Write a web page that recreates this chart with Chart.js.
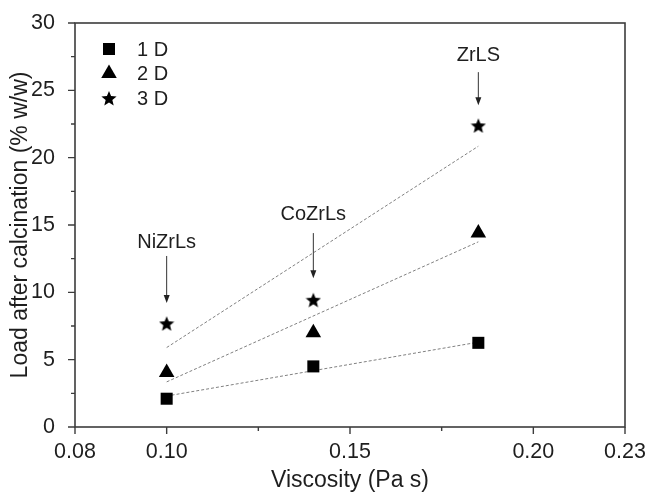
<!DOCTYPE html>
<html><head><meta charset="utf-8">
<script src="https://cdn.jsdelivr.net/npm/chart.js@4.4.1/dist/chart.umd.min.js"></script>
<style>html,body{margin:0;padding:0;background:#fff;} #wrap{width:647px;height:494px;position:relative;}</style>
</head><body><div id="wrap"><canvas id="c"></canvas></div>
<script>
// ---- data ----
const viscosity = [0.10, 0.14, 0.185];
const load1D = [2.1, 4.5, 6.25];
const load2D = [4.05, 7.0, 14.4];
const load3D = [7.7, 9.45, 22.4];
const seriesNames = ['1 D', '2 D', '3 D'];
const fitX = [0.10, 0.185];
const fit1D = [2.3, 6.3];
const fit2D = [3.35, 13.75];
const fit3D = [5.9, 20.85];
const xTickValues = [0.075, 0.10, 0.125, 0.15, 0.175, 0.20, 0.225];
const xTickLabels = ['0.08', '0.10', '', '0.15', '', '0.20', '0.23'];
const yTickValues = [0, 2.5, 5, 7.5, 10, 12.5, 15, 17.5, 20, 22.5, 25, 27.5, 30];
const yTickLabels = ['0', '', '5', '', '10', '', '15', '', '20', '', '25', '', '30'];
const sampleNames = ['NiZrLs', 'CoZrLs', 'ZrLS'];
const sampleLabelY = [13.7, 15.75, 27.6];
const arrowFrom = [12.7, 14.4, 26.35];
const arrowTo = [9.2, 11.05, 23.9];

const FONT = 'Liberation Sans, Arial, Helvetica, sans-serif';
const TXT = '#1e1e1e';

function makeStar(size) {
  const c = document.createElement('canvas');
  c.width = c.height = size;
  const g = c.getContext('2d');
  const R = size / 2, r = R * 0.44, cy = R + size * 0.06;
  g.beginPath();
  for (let i = 0; i < 10; i++) {
    const a = -Math.PI / 2 + i * Math.PI / 5;
    const rad = i % 2 ? r : R;
    g.lineTo(R + rad * Math.cos(a), cy + rad * Math.sin(a));
  }
  g.closePath();
  g.fillStyle = '#000';
  g.fill();
  return c;
}
const starImg = makeStar(16);

const pts = (ys, xs) => ys.map((y, i) => ({x: xs[i], y}));
const markerStyles = [
  {pointStyle: 'rect', radius: 8.5},
  {pointStyle: 'triangle', radius: 9},
  {pointStyle: starImg, radius: 8}
];
const seriesData = [load1D, load2D, load3D];
const fitData = [fit1D, fit2D, fit3D];

const datasets = [];
fitData.forEach((f) => datasets.push({
  type: 'line', data: pts(f, fitX), borderColor: '#808080', borderWidth: 1,
  borderDash: [3, 2], pointRadius: 0, fill: false, order: 2
}));
seriesData.forEach((s, i) => datasets.push({
  type: 'scatter', label: seriesNames[i], data: pts(s, viscosity),
  pointStyle: markerStyles[i].pointStyle, pointRadius: markerStyles[i].radius,
  pointHoverRadius: markerStyles[i].radius,
  backgroundColor: '#000', borderColor: '#000', borderWidth: 0, order: 1
}));

const decor = {
  id: 'decor',
  afterDraw(chart) {
    const ctx = chart.ctx, a = chart.chartArea;
    const xs = chart.scales.x, ys = chart.scales.y;
    ctx.save();
    // frame
    ctx.strokeStyle = '#3c3c3c';
    ctx.lineWidth = 1.6;
    ctx.strokeRect(a.left, a.top, a.right - a.left, a.bottom - a.top);
    // ticks
    ctx.lineWidth = 1.4;
    ctx.beginPath();
    xs.ticks.forEach((t, i) => {
      const px = xs.getPixelForValue(t.value);
      const len = xTickLabels[i] ? 7 : 4;
      ctx.moveTo(px, a.bottom); ctx.lineTo(px, a.bottom + len);
    });
    ys.ticks.forEach((t, i) => {
      const py = ys.getPixelForValue(t.value);
      const len = yTickLabels[i] ? 7 : 4;
      ctx.moveTo(a.left, py); ctx.lineTo(a.left - len, py);
    });
    ctx.stroke();
    // legend
    ctx.font = '20px ' + FONT;
    ctx.textBaseline = 'middle';
    ctx.textAlign = 'left';
    seriesNames.forEach((n, i) => {
      const ly = a.top + 26 + i * 24.5;
      const lx = a.left + 34;
      ctx.fillStyle = '#000'; ctx.strokeStyle = '#000';
      Chart.helpers.drawPoint(ctx, {pointStyle: markerStyles[i].pointStyle, radius: markerStyles[i].radius, rotation: 0, borderWidth: 0}, lx, ly);
      ctx.fillStyle = TXT;
      ctx.fillText(n, a.left + 62, ly + 1);
    });
    // sample annotations with arrows
    ctx.textAlign = 'center';
    sampleNames.forEach((n, i) => {
      const px = xs.getPixelForValue(viscosity[i]);
      ctx.fillStyle = TXT;
      ctx.fillText(n, px, ys.getPixelForValue(sampleLabelY[i]));
      const y0 = ys.getPixelForValue(arrowFrom[i]);
      const y1 = ys.getPixelForValue(arrowTo[i]);
      ctx.strokeStyle = '#333'; ctx.lineWidth = 1;
      ctx.beginPath(); ctx.moveTo(px, y0); ctx.lineTo(px, y1 - 6); ctx.stroke();
      ctx.fillStyle = '#222';
      ctx.beginPath(); ctx.moveTo(px - 3, y1 - 8); ctx.lineTo(px + 3, y1 - 8); ctx.lineTo(px, y1); ctx.closePath(); ctx.fill();
    });
    ctx.restore();
  }
};

new Chart(document.getElementById('c'), {
  data: {datasets},
  options: {
    responsive: true, maintainAspectRatio: false, animation: false,
    layout: {padding: {left: 0, top: 23, right: 22, bottom: 0}},
    plugins: {legend: {display: false}, tooltip: {enabled: false}},
    scales: {
      x: {
        type: 'linear', min: 0.075, max: 0.225,
        afterBuildTicks: s => { s.ticks = xTickValues.map(v => ({value: v})); },
        afterFit: s => { s.height = 67; s.paddingLeft = 0; s.paddingRight = 0; },
        grid: {display: false}, border: {display: false},
        ticks: {callback: (v, i) => xTickLabels[i], font: {size: 21.5, family: FONT}, color: TXT, padding: 4, maxRotation: 0, autoSkip: false},
        title: {display: true, text: 'Viscosity (Pa s)', font: {size: 23, family: FONT}, color: TXT, padding: {top: 0, bottom: 0}}
      },
      y: {
        type: 'linear', min: 0, max: 30,
        afterBuildTicks: s => { s.ticks = yTickValues.map(v => ({value: v})); },
        afterFit: s => { s.width = 75; s.paddingTop = 0; s.paddingBottom = 0; },
        grid: {display: false}, border: {display: false},
        ticks: {callback: (v, i) => yTickLabels[i], font: {size: 21.5, family: FONT}, color: TXT, padding: 12, autoSkip: false},
        title: {display: true, text: 'Load after calcination (% w/w)', font: {size: 23, family: FONT}, color: TXT, padding: {top: 7, bottom: 0}}
      }
    }
  },
  plugins: [decor]
});
</script></body></html>
